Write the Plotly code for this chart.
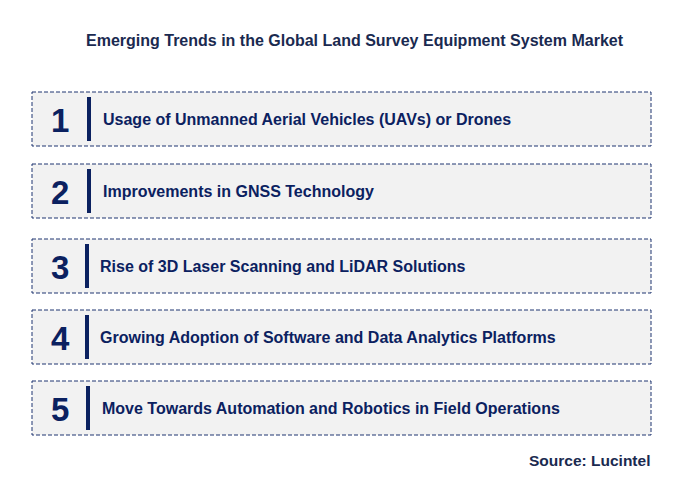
import plotly.graph_objects as go

numbers = ["1", "2", "3", "4", "5"]
labels = [
    "Usage of Unmanned Aerial Vehicles (UAVs) or Drones",
    "Improvements in GNSS Technology",
    "Rise of 3D Laser Scanning and LiDAR Solutions",
    "Growing Adoption of Software and Data Analytics Platforms",
    "Move Towards Automation and Robotics in Field Operations",
]
box_tops = [92, 164, 239, 310, 381]
text_x = [101, 101, 98, 98, 100]
bar_x = [89, 89, 87, 87, 88]

NAVY = "#0b2160"
fig = go.Figure()
shapes, ann = [], []
for n, lab, top, tx, bx in zip(numbers, labels, box_tops, text_x, bar_x):
    h = 54
    shapes.append(dict(type="rect", x0=32, x1=651, y0=top, y1=top + h,
                       fillcolor="#f2f2f2", line=dict(color="#1f3470", width=1, dash="4px,2px"), layer="below"))
    shapes.append(dict(type="line", x0=bx, x1=bx, y0=top + 5, y1=top + h - 5,
                       line=dict(color=NAVY, width=4)))
    ann.append(dict(x=60, y=top + h / 2 + 1, text=f"<b>{n}</b>", showarrow=False,
                    font=dict(size=33, color=NAVY, family="Arial"), xanchor="center", yanchor="middle"))
    ann.append(dict(x=tx, y=top + h / 2, text=f"<b>{lab}</b>", showarrow=False,
                    font=dict(size=16, color=NAVY, family="Arial"), xanchor="left", yanchor="middle"))
ann.append(dict(x=355, y=40, text="<b>Emerging Trends in the Global Land Survey Equipment System Market</b>",
                showarrow=False, font=dict(size=16, color="#1a2a50", family="Arial"), xanchor="center", yanchor="middle"))
ann.append(dict(x=652, y=460, text="<b>Source: Lucintel</b>", showarrow=False,
                font=dict(size=15.5, color="#1a2a50", family="Arial"), xanchor="right", yanchor="middle"))
fig.add_trace(go.Scatter(x=[0], y=[0], mode="markers", marker=dict(opacity=0), hoverinfo="skip", showlegend=False))
fig.update_layout(width=674, height=481, margin=dict(l=0, r=0, t=0, b=0),
                  plot_bgcolor="white", paper_bgcolor="white", shapes=shapes, annotations=ann,
                  xaxis=dict(range=[8, 682], visible=False, fixedrange=True),
                  yaxis=dict(range=[489, 8], visible=False, fixedrange=True))
fig.write_html("out.html")
